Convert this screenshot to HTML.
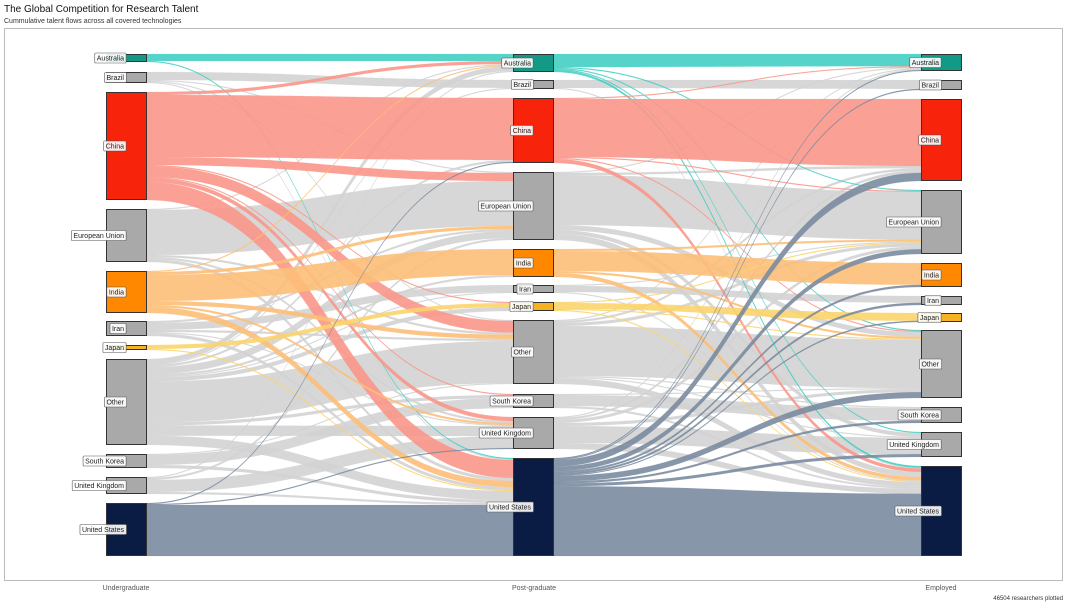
<!DOCTYPE html>
<html><head><meta charset="utf-8"><style>
html,body{margin:0;padding:0;background:#fff;}
body{width:1068px;height:604px;overflow:hidden;font-family:"Liberation Sans",sans-serif;}
</style></head><body>
<svg id="s" width="1068" height="604" xmlns="http://www.w3.org/2000/svg" font-family="Liberation Sans, sans-serif">
<text x="4" y="12" font-size="10" fill="#111">The Global Competition for Research Talent</text>
<text x="4" y="23" font-size="7" fill="#333">Cummulative talent flows across all covered technologies</text>
<rect x="4.5" y="28.5" width="1058" height="552" fill="none" stroke="#bbb" stroke-width="1"/>
<g id="flows"></g><g id="nodes"></g>
<text x="126" y="590" font-size="7" fill="#555" text-anchor="middle">Undergraduate</text>
<text x="534" y="590" font-size="7" fill="#555" text-anchor="middle">Post-graduate</text>
<text x="941" y="590" font-size="7" fill="#555" text-anchor="middle">Employed</text>
<text x="1063" y="600" font-size="6" fill="#333" text-anchor="end">46504 researchers plotted</text>
</svg>
<script>
var names=["Australia","Brazil","China","European Union","India","Iran","Japan","Other","South Korea","United Kingdom","United States"];
var ncol=["#129a86","#a9a9a9","#f7230b","#a9a9a9","#ff8800","#a9a9a9","#f4b224","#a9a9a9","#a9a9a9","#a9a9a9","#0b1c44"];
var fcol=["#45cfc3","#d3d3d3","#f9968a","#d3d3d3","#fdbf78","#d3d3d3","#fbd46c","#d3d3d3","#d3d3d3","#d3d3d3","#7a8ca0"];
var cols=[
 {x:106,y:[[54,62],[72,83],[92,200],[209,262],[271,313],[321,336],[345,350],[359,445],[454,468],[477,494],[503,556]]},
 {x:513,y:[[54,72],[80,89],[98,163],[172,240],[249,277],[285,293],[302,311],[320,384],[394,408],[417,449],[458,556]]},
 {x:921,y:[[54,71],[80,90],[99,181],[190,254],[263,287],[296,305],[313,322],[330,398],[407,423],[432,457],[466,556]]}];
var W=41;
var M1=[
[7,0,0,0,0,0,0,0,0,0,1],
[0,8,0,1,0,0,0,1,0,0,1],
[3,0,62,8,0,0,1,11,1,4,18],
[1,0,0,45,0,0,0,2,0,2,3],
[1,0,0,3,26,0,0,4,0,2,6],
[0,0,0,2,0,7,0,2,0,1,3],
[0,0,0,0,0,0,4,0,0,0,1],
[5,1,2,7,2,1,4,40,3,10,9],
[0,0,0,0,0,0,0,1,10,0,3],
[1,0,0,2,0,0,0,0,0,12,2],
[0,0,1,0,0,0,0,0,0,1,51]];
var M2=[
[13,0,0,1,0,0,0,1,0,1,2],
[0,8,0,0,0,0,0,0,0,0,1],
[1,0,58,1,0,0,0,1,0,0,4],
[1,0,2,50,0,0,0,5,0,4,6],
[0,0,0,2,20,0,0,2,0,0,4],
[0,0,0,1,0,6,0,0,0,0,1],
[0,0,0,1,0,0,6,1,0,0,1],
[1,0,2,3,0,0,0,50,1,1,6],
[0,0,0,0,0,0,0,1,11,0,2],
[1,0,2,3,0,0,0,3,0,17,6],
[1,1,7,5,2,2,1,6,2,3,74]];
var NS="http://www.w3.org/2000/svg";
var fg=document.getElementById("flows"),ng=document.getElementById("nodes");
function el(t,a,p){var e=document.createElementNS(NS,t);for(var k in a)e.setAttribute(k,a[k]);p.appendChild(e);return e;}
function stage(M,A,B){
 var n=11,rs=[],cs=[];
 for(var i=0;i<n;i++){rs[i]=0;cs[i]=0;}
 for(i=0;i<n;i++)for(var j=0;j<n;j++){rs[i]+=M[i][j];cs[j]+=M[i][j];}
 var so=[],to=[];for(i=0;i<n;i++){so[i]=A.y[i][0];to[i]=B.y[i][0];}
 var x0=A.x+W,x1=B.x,xm=(x0+x1)/2;
 var gray=[],colr=[];
 for(i=0;i<n;i++)for(j=0;j<n;j++){var v=M[i][j];if(!v)continue;
  var hs=v/rs[i]*(A.y[i][1]-A.y[i][0]),ht=v/cs[j]*(B.y[j][1]-B.y[j][0]);
  var a0=so[i],a1=so[i]+hs,b0=to[j],b1=to[j]+ht;so[i]=a1;to[j]=b1;
  var d="M"+x0+","+a0+"C"+xm+","+a0+" "+xm+","+b0+" "+x1+","+b0+"L"+x1+","+b1+"C"+xm+","+b1+" "+xm+","+a1+" "+x0+","+a1+"Z";
  (fcol[i]=="#d3d3d3"?gray:colr).push([d,fcol[i]]);}
 gray.concat(colr).forEach(function(p){el("path",{d:p[0],fill:p[1],"fill-opacity":0.9,stroke:p[1],"stroke-opacity":0.3,"stroke-width":0.4},fg);});
}
stage(M1,cols[0],cols[1]);stage(M2,cols[1],cols[2]);
cols.forEach(function(c){for(var i=0;i<11;i++){var y0=c.y[i][0],y1=c.y[i][1];
 el("rect",{x:c.x+0.5,y:y0+0.5,width:W-1,height:y1-y0-1,fill:ncol[i],stroke:"#333","stroke-width":1},ng);}});
cols.forEach(function(c){for(var i=0;i<11;i++){var cy=(c.y[i][0]+c.y[i][1])/2,xr=c.x+20;
 var t=el("text",{x:xr-2,y:cy+2.5,"font-size":7,fill:"#222","text-anchor":"end"},ng);t.textContent=names[i];
 var b=t.getBBox();var r=el("rect",{x:b.x-2,y:cy-5,width:b.width+4,height:10,fill:"#fff","fill-opacity":0.9,stroke:"#555","stroke-width":0.6,rx:1},ng);
 ng.insertBefore(r,t);}});
</script>
</body></html>
